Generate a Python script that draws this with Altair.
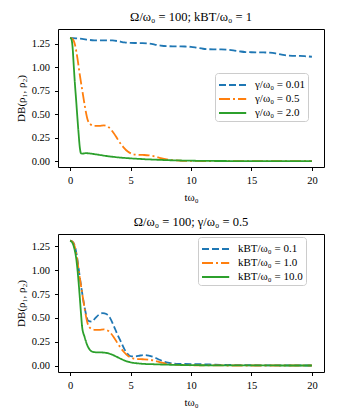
import altair as alt
import pandas as pd

# ---- data ----
# top panel: gamma series
t_g001 = [0, 0.5, 1, 1.5, 2, 2.5, 3, 3.5, 4, 4.5, 5, 5.5, 6, 6.5, 7, 7.5, 8, 8.5, 9, 9.5, 10,
          10.5, 11, 11.5, 12, 12.5, 13, 13.5, 14, 14.5, 15, 15.5, 16, 16.5, 17, 17.5, 18, 18.5, 19, 19.5, 20]
v_g001 = [1.31, 1.305, 1.30, 1.29, 1.285, 1.285, 1.285, 1.283, 1.275, 1.262, 1.257, 1.256, 1.255, 1.25,
          1.24, 1.228, 1.222, 1.221, 1.22, 1.219, 1.215, 1.205, 1.195, 1.19, 1.189, 1.188, 1.185, 1.178,
          1.168, 1.16, 1.158, 1.157, 1.156, 1.153, 1.145, 1.132, 1.122, 1.12, 1.119, 1.115, 1.11]

t_g05 = [0, 0.2, 0.4, 0.6, 0.8, 1.0, 1.2, 1.45, 1.7, 2.0, 2.4, 2.8, 3.2, 3.6, 4.0, 4.4, 4.8, 5.2, 5.6,
         6.0, 6.5, 7.0, 7.5, 8.0, 8.5, 9, 10, 11, 12, 14, 16, 18, 20]
v_g05 = [1.31, 1.30, 1.24, 1.10, 0.92, 0.76, 0.60, 0.44, 0.39, 0.375, 0.375, 0.38, 0.36, 0.30, 0.22,
         0.15, 0.10, 0.075, 0.068, 0.066, 0.062, 0.05, 0.032, 0.018, 0.01, 0.006, 0.003, 0.002, 0.001,
         0.0, 0.0, 0.0, 0.0]

t_g2 = [0, 0.1, 0.2, 0.3, 0.4, 0.5, 0.6, 0.7, 0.8, 0.9, 1.0, 1.3, 1.6, 2.0, 2.5, 3, 4, 5, 6, 7, 8, 10,
        12, 15, 20]
v_g2 = [1.31, 1.30, 1.22, 1.02, 0.82, 0.65, 0.47, 0.30, 0.15, 0.085, 0.08, 0.085, 0.082, 0.075, 0.065,
        0.055, 0.04, 0.03, 0.022, 0.016, 0.011, 0.005, 0.002, 0.001, 0.0]

# bottom panel: temperature series (kT=1.0 equals gamma=0.5 curve above)
t_k01 = [0, 0.2, 0.4, 0.6, 0.8, 1.0, 1.2, 1.5, 1.8, 2.1, 2.4, 2.7, 3.0, 3.3, 3.6, 3.9, 4.2, 4.5, 4.8,
         5.1, 5.4, 5.8, 6.2, 6.6, 7.0, 7.4, 7.8, 8.2, 8.6, 9, 10, 11, 12, 13, 14, 16, 18, 20]
v_k01 = [1.31, 1.30, 1.25, 1.12, 0.93, 0.76, 0.61, 0.47, 0.46, 0.50, 0.535, 0.55, 0.54, 0.50, 0.42,
         0.33, 0.25, 0.17, 0.115, 0.095, 0.095, 0.105, 0.11, 0.10, 0.085, 0.06, 0.04, 0.028, 0.02,
         0.017, 0.015, 0.013, 0.009, 0.006, 0.004, 0.002, 0.001, 0.0]

t_k1 = t_g05
v_k1 = v_g05

t_k10 = [0, 0.2, 0.4, 0.5, 0.6, 0.7, 0.8, 0.9, 1.0, 1.2, 1.4, 1.6, 1.9, 2.2, 2.6, 3.0, 3.4, 3.8, 4.2,
         4.6, 5.0, 5.5, 6, 7, 8, 10, 12, 15, 20]
v_k10 = [1.31, 1.285, 1.20, 1.13, 1.02, 0.88, 0.72, 0.55, 0.40, 0.30, 0.22, 0.17, 0.143, 0.138, 0.137,
         0.132, 0.118, 0.095, 0.07, 0.048, 0.033, 0.024, 0.018, 0.013, 0.009, 0.004, 0.002, 0.001, 0.0]

top_labels = ["γ/ω₀ = 0.01", "γ/ω₀ = 0.5", "γ/ω₀ = 2.0"]
bot_labels = ["kBT/ω₀ = 0.1", "kBT/ω₀ = 1.0", "kBT/ω₀ = 10.0"]
colors = ["#1f77b4", "#ff7f0e", "#2ca02c"]
dashes = [[7, 3], [11, 3, 2, 3], [1, 0]]


def frame(ts, vs, labels):
    rows = []
    for t, v, lab in zip(ts, vs, labels):
        for a, b in zip(t, v):
            rows.append({"t": a, "v": b, "s": lab})
    return pd.DataFrame(rows)


df_top = frame([t_g001, t_g05, t_g2], [v_g001, v_g05, v_g2], top_labels)
df_bot = frame([t_k01, t_k1, t_k10], [v_k01, v_k1, v_k10], bot_labels)

FONT = "Liberation Serif"
W, H = 266, 138


def panel(df, labels, title, ydom, lx, ly):
    leg = alt.Legend(
        title=None, orient="none", legendX=lx, legendY=ly,
        fillColor="white", strokeColor="#cccccc", cornerRadius=3, padding=3,
        symbolType="M-1,0H2.4", symbolSize=256, symbolStrokeWidth=2,
        labelFont=FONT, labelFontSize=11, labelColor="black", rowPadding=0, labelOffset=19,
    )
    return alt.Chart(df, title=alt.TitleParams(
        title, font=FONT, fontSize=12.5, fontWeight="normal", anchor="middle",
        offset=6, color="black")).mark_line(
        strokeWidth=1.8, interpolate="monotone"
    ).encode(
        x=alt.X("t:Q", scale=alt.Scale(domain=[-1, 21], nice=False, zero=False),
                axis=alt.Axis(values=[0, 5, 10, 15, 20], title="tω₀")),
        y=alt.Y("v:Q", scale=alt.Scale(domain=ydom, nice=False, zero=False),
                axis=alt.Axis(values=[0, 0.25, 0.5, 0.75, 1.0, 1.25], format=".2f",
                              title="DB(ρ₁, ρ₂)")),
        color=alt.Color("s:N", scale=alt.Scale(domain=labels, range=colors), legend=leg),
        strokeDash=alt.StrokeDash("s:N", scale=alt.Scale(domain=labels, range=dashes), legend=leg),
    ).properties(width=W, height=H)


top = panel(df_top, top_labels, "Ω/ω₀ = 100; kBT/ω₀ = 1", [-0.062, 1.405], 157, 44)
bot = panel(df_bot, bot_labels, "Ω/ω₀ = 100; γ/ω₀ = 0.5", [-0.068, 1.38], 140, 3)

chart = alt.concat(top, bot, columns=1, spacing=67, bounds="flush").resolve_scale(
    x="independent", y="independent", color="independent", strokeDash="independent"
).properties(
    padding={"left": 6, "top": 2, "right": 0, "bottom": 0}
).configure_view(
    stroke="black", strokeWidth=1
).configure_axis(
    domain=False, grid=False, ticks=True, tickSize=3.5, tickColor="black",
    labelFont=FONT, labelFontSize=10.5, labelColor="black", labelPadding=5,
    titleFont=FONT, titleFontSize=11, titleFontWeight="normal", titleColor="black",
    titlePadding=5,
)

chart.save("out.html", embed_options={"renderer": "svg", "actions": False})
